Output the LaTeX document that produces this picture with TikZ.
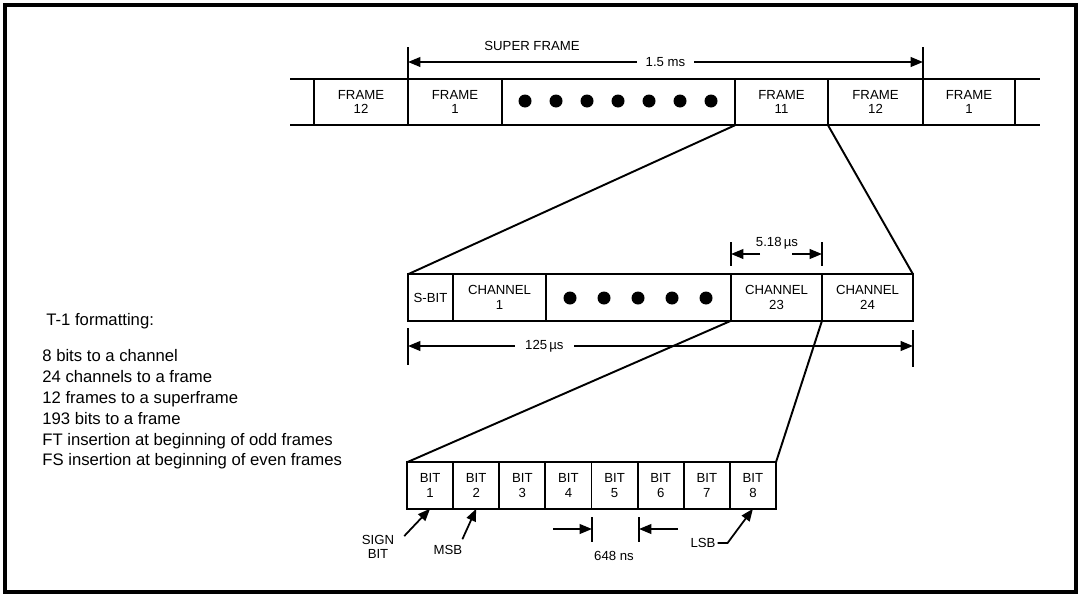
\documentclass[tikz,border=0pt]{standalone}
\usepackage{fontspec}
\setmainfont{Liberation Sans}
\usetikzlibrary{arrows.meta}

\begin{document}
\begin{tikzpicture}[x=0.02cm, y=-0.02cm,
    >={Triangle[length=7pt,width=5.5pt]},
    box/.style={draw, line width=1.1pt, inner sep=0pt, outer sep=0pt, minimum height=0.93cm,
        align=center, font=\fontsize{7.5}{8.2}\selectfont},
    lbl/.style={inner sep=1pt, align=center, font=\fontsize{7.5}{8.2}\selectfont},
    dim/.style={line width=1pt},
    tick/.style={line width=1.1pt},
    fan/.style={line width=1.1pt}]
            \useasboundingbox (0,0) rectangle (1079,595);
            \draw[line width=1.8pt] (5,5) rectangle (1076,592);

            % super frame row
            \draw[line width=1.1pt] (290,79) -- (1040,79);
            \draw[line width=1.1pt] (290,125) -- (1040,125);
            \node[box, minimum width=1.88cm] (f12a) at (361,102) {FRAME\\12};
            \node[box, minimum width=1.88cm] (f1a) at (455,102) {FRAME\\1};
            \node[box, minimum width=4.66cm] (fdots) at (618.5,102) {};
            \node[box, minimum width=1.86cm] (f11) at (781.5,102) {FRAME\\11};
            \node[box, minimum width=1.9cm] (f12b) at (875.5,102) {FRAME\\12};
            \node[box, minimum width=1.84cm] (f1b) at (969,102) {FRAME\\1};
            \foreach \x in {525,556,...,711}
                \fill (\x,101) circle[radius=3.7pt];

            \coordinate (sfl) at (408,47);
            \coordinate (sfr) at (923,47);
            \draw[tick] (f1a.north west) -- (sfl);
            \draw[tick] (f12b.north east) -- (sfr);
            \draw[dim,<->] (408,62) -- node[lbl, fill=white, inner xsep=5pt] (ms) {1.5 ms} (923,62);
            \node[lbl] (sftxt) at (532,46) {SUPER FRAME};

            % frame row
            \node[box, minimum width=0.9cm] (sbit) at (430.5,297.5) {S-BIT};
            \node[box, minimum width=1.86cm] (ch1) at (499.5,297.5) {CHANNEL\\1};
            \node[box, minimum width=3.7cm] (cdots) at (638.5,297.5) {};
            \node[box, minimum width=1.82cm] (ch23) at (776.5,297.5) {CHANNEL\\23};
            \node[box, minimum width=1.82cm] (ch24) at (867.5,297.5) {CHANNEL\\24};
            \foreach \x in {570,604,...,706}
                \fill (\x,298) circle[radius=3.7pt];

            \draw[fan] (f11.south west) -- (sbit.north west);
            \draw[fan] (f12b.south west) -- (ch24.north east);

            \draw[tick] (731,242) -- (731,266);
            \draw[tick] (822,242) -- (822,266);
            \draw[dim,->] (760,254) -- (731,254);
            \draw[dim,->] (792,254) -- (822,254);
            \node[lbl] (chtime) at (777,243) {5.18\,µs};

            \draw[tick] (408,328) -- (408,365);
            \draw[tick] (913,330) -- (913,367);
            \draw[dim,<->] (408,346) -- node[pos=0.27, lbl, fill=white, inner xsep=6pt] (us) {125\,µs} (913,346);

            % channel row
            \foreach \i in {1,...,8}
                \node[box, minimum width=0.922cm] (bit\i) at ({407+46.125*(\i-0.5)},485.5) {BIT\\\i};

            \draw[fan] (ch23.south west) -- (bit1.north west);
            \draw[fan] (ch23.south east) -- (bit8.north east);

            \node[lbl] (sign) at (378,547) {SIGN\\BIT};
            \node[lbl] (msb) at (448,550) {MSB};
            \node[lbl] (lsb) at (703,543) {LSB};
            \node[lbl] (ns) at (614,556) {648 ns};
            \draw[dim,->] ([shift={(8,3)}]sign.north east) -- (bit1.south);
            \draw[dim,->] ([shift={(-2,-4)}]msb.north east) -- (bit2.south);
            \draw[dim,->] (lsb.east) -- ++(10,0) -- (bit8.south);
            \draw[tick] (592,517) -- (592,542);
            \draw[tick] (639,517) -- (639,542);
            \draw[dim,->] (553,529) -- (592,529);
            \draw[dim,->] (678,529) -- (639,529);

            % T-1 summary
            \node[anchor=west, inner sep=0pt, font=\fontsize{9.5}{12}\selectfont] (title) at (46,321) {T-1 formatting:};
            \node[anchor=north west, align=left, inner sep=0pt, font=\fontsize{9.5}{11.9}\selectfont] (facts) at (42,349)
                {8 bits to a channel\\24 channels to a frame\\12 frames to a superframe\\193 bits to a frame\\
                 FT insertion at beginning of odd frames\\FS insertion at beginning of even frames};
\end{tikzpicture}
\end{document}
